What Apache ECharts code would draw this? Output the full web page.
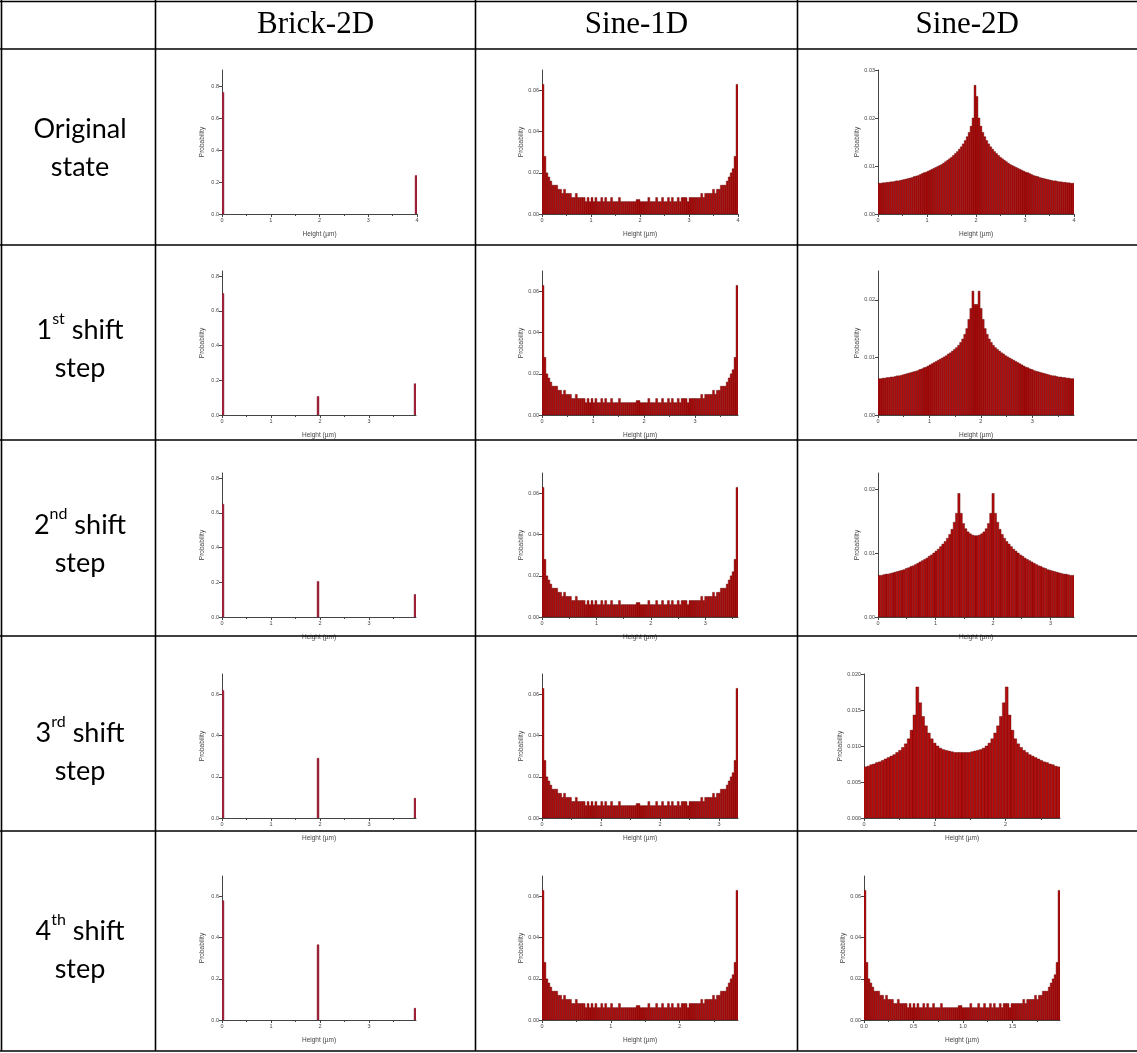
<!DOCTYPE html>
<html>
<head>
<meta charset="utf-8">
<script src="https://cdn.jsdelivr.net/npm/echarts@6/dist/echarts.min.js"></script>
<style>
  html, body { margin: 0; padding: 0; background: #fff; }
  #chart { width: 1137px; height: 1053px; }
</style>
</head>
<body>
<div id="chart"></div>
<script>
// column / row headings
const columnTitles = ['Brick-2D', 'Sine-1D', 'Sine-2D'];
const rowTitles = [
  '{n|Original}\n{n|state}',
  '{n|1}{s|st}{n| shift}\n{n|step}',
  '{n|2}{s|nd}{n| shift}\n{n|step}',
  '{n|3}{s|rd}{n| shift}\n{n|step}',
  '{n|4}{s|th}{n| shift}\n{n|step}'
];

// Brick-2D: only three bins are filled (first, middle, last)
const brickFirst = [0.76, 0.70, 0.65, 0.62, 0.58];
const brickMiddle = [0, 0.107, 0.205, 0.29, 0.366];
const brickLast = [0.24, 0.18, 0.13, 0.096, 0.057];
const brickBins = 100;

// U-shaped histogram (Sine-1D, all steps; Sine-2D last step)
const uProfile = [
  0.063, 0.028, 0.020, 0.018, 0.016, 0.014, 0.014, 0.014, 0.012, 0.012,
  0.010, 0.012, 0.010, 0.010, 0.010, 0.008, 0.008, 0.010, 0.008, 0.008,
  0.008, 0.008, 0.006, 0.008, 0.006, 0.008, 0.006, 0.008, 0.006, 0.006,
  0.008, 0.006, 0.008, 0.006, 0.006, 0.008, 0.006, 0.006, 0.006, 0.008,
  0.006, 0.006, 0.006, 0.006, 0.006, 0.006, 0.006, 0.006, 0.007, 0.007,
  0.006, 0.006, 0.006, 0.006, 0.008, 0.006, 0.006, 0.006, 0.008, 0.006,
  0.006, 0.008, 0.006, 0.006, 0.008, 0.006, 0.008, 0.006, 0.006, 0.008,
  0.006, 0.008, 0.008, 0.008, 0.006, 0.008, 0.008, 0.008, 0.008, 0.008,
  0.008, 0.010, 0.008, 0.010, 0.010, 0.010, 0.010, 0.012, 0.010, 0.012,
  0.012, 0.014, 0.014, 0.014, 0.016, 0.018, 0.020, 0.022, 0.028, 0.063
];

// Sine-2D histograms
const sine2dOriginal = [
  0.0064, 0.0064, 0.0065, 0.0065, 0.0066, 0.0066, 0.0067, 0.0067, 0.0068, 0.0069,
  0.0069, 0.0070, 0.0071, 0.0072, 0.0073, 0.0074, 0.0075, 0.0076, 0.0078, 0.0079,
  0.0080, 0.0082, 0.0084, 0.0086, 0.0087, 0.0089, 0.0091, 0.0093, 0.0095, 0.0097,
  0.0099, 0.0101, 0.0103, 0.0106, 0.0109, 0.0112, 0.0115, 0.0118, 0.0122, 0.0126,
  0.0130, 0.0135, 0.0140, 0.0146, 0.0153, 0.0161, 0.0170, 0.0183, 0.0200, 0.0268,
  0.0245, 0.0200, 0.0183, 0.0170, 0.0161, 0.0153, 0.0146, 0.0140, 0.0135, 0.0130,
  0.0126, 0.0122, 0.0118, 0.0115, 0.0112, 0.0109, 0.0106, 0.0103, 0.0101, 0.0099,
  0.0097, 0.0095, 0.0093, 0.0091, 0.0089, 0.0087, 0.0086, 0.0084, 0.0082, 0.0080,
  0.0079, 0.0078, 0.0076, 0.0075, 0.0074, 0.0073, 0.0072, 0.0071, 0.0070, 0.0069,
  0.0069, 0.0068, 0.0067, 0.0067, 0.0066, 0.0066, 0.0065, 0.0065, 0.0064, 0.0064
];
const sine2dStep1 = [
  0.0063, 0.0063, 0.0064, 0.0064, 0.0065, 0.0065, 0.0066, 0.0066, 0.0067, 0.0068,
  0.0068, 0.0069, 0.0070, 0.0071, 0.0072, 0.0073, 0.0074, 0.0075, 0.0076, 0.0077,
  0.0079, 0.0080, 0.0082, 0.0083, 0.0085, 0.0087, 0.0089, 0.0091, 0.0093, 0.0095,
  0.0097, 0.0099, 0.0101, 0.0103, 0.0106, 0.0108, 0.0111, 0.0114, 0.0117, 0.0121,
  0.0126, 0.0132, 0.0140, 0.0150, 0.0166, 0.0185, 0.0215, 0.0192,
  0.0192, 0.0215, 0.0185, 0.0166, 0.0150, 0.0140, 0.0132, 0.0126,
  0.0121, 0.0117, 0.0114, 0.0111, 0.0108, 0.0106, 0.0103, 0.0101, 0.0099, 0.0097,
  0.0095, 0.0093, 0.0091, 0.0089, 0.0087, 0.0085, 0.0083, 0.0082, 0.0080, 0.0079,
  0.0077, 0.0076, 0.0075, 0.0074, 0.0073, 0.0072, 0.0071, 0.0070, 0.0069, 0.0068,
  0.0068, 0.0067, 0.0066, 0.0066, 0.0065, 0.0065, 0.0064, 0.0064, 0.0063, 0.0063
];
const sine2dStep2 = [
  0.0065, 0.0065, 0.0066, 0.0067, 0.0067, 0.0068, 0.0069, 0.0070, 0.0071, 0.0072,
  0.0073, 0.0074, 0.0076, 0.0077, 0.0079, 0.0080, 0.0082, 0.0084, 0.0086, 0.0088,
  0.0090, 0.0092, 0.0095, 0.0097, 0.0100, 0.0103, 0.0106, 0.0110, 0.0114, 0.0118,
  0.0123, 0.0129, 0.0137, 0.0148, 0.0162, 0.0193, 0.0162, 0.0146, 0.0138, 0.0133,
  0.0130, 0.0128, 0.0127,
  0.0127, 0.0128, 0.0130,
  0.0133, 0.0138, 0.0146, 0.0162, 0.0193, 0.0162, 0.0148, 0.0137, 0.0129, 0.0123,
  0.0118, 0.0114, 0.0110, 0.0106, 0.0103, 0.0100, 0.0097, 0.0095, 0.0092, 0.0090,
  0.0088, 0.0086, 0.0084, 0.0082, 0.0080, 0.0079, 0.0077, 0.0076, 0.0074, 0.0073,
  0.0072, 0.0071, 0.0070, 0.0069, 0.0068, 0.0067, 0.0067, 0.0066, 0.0065, 0.0065
];
const sine2dStep3 = [
  0.0071, 0.0072, 0.0074, 0.0075, 0.0077, 0.0078, 0.0080, 0.0082, 0.0084, 0.0086,
  0.0088, 0.0091, 0.0094, 0.0098, 0.0103, 0.0110, 0.0122, 0.0143, 0.0182, 0.0160,
  0.0141, 0.0128, 0.0118, 0.0110, 0.0104, 0.0100, 0.0097, 0.0095, 0.0094, 0.0093,
  0.0092, 0.0091, 0.0091, 0.0091,
  0.0091, 0.0091, 0.0091, 0.0092, 0.0093, 0.0094, 0.0095, 0.0097, 0.0100, 0.0104,
  0.0110, 0.0118, 0.0128, 0.0141, 0.0160, 0.0182, 0.0143, 0.0122, 0.0110, 0.0103,
  0.0098, 0.0094, 0.0091, 0.0088, 0.0086, 0.0084, 0.0082, 0.0080, 0.0078, 0.0077,
  0.0075, 0.0074, 0.0072, 0.0071
];

// axis ranges per row (µm / probability)
const brickXMax = [4, 3.96, 3.96, 3.96, 3.96];
const sine1dXMax = [4, 3.84, 3.6, 3.32, 2.85];
const sine2dXMax = [4, 3.81, 3.41, 2.77, 1.98];
const brickYMax = [0.9, 0.83, 0.83, 0.7, 0.7];
const sine1dYMax = [0.07, 0.07, 0.07, 0.07, 0.07];
const sine2dYMax = [0.03, 0.025, 0.0225, 0.02, 0.07];
const sine2dYStep = [0.01, 0.01, 0.01, 0.005, 0.02];
const sine2dData = [sine2dOriginal, sine2dStep1, sine2dStep2, sine2dStep3, uProfile];

// table layout
const colX = [1.5, 155.5, 475.5, 797.5];
const rowY = [1.5, 49, 245, 440, 636, 831, 1051];
const rowTitleY = [148, 349, 544, 752, 950];
const plotTop = [70, 271, 473, 674, 876];
const PLOT_H = 144;

const grids = [], xAxes = [], yAxes = [], series = [];
const axisColor = '#444';
const tinyFont = 'Liberation Sans, Arial, sans-serif';

function tickList(start, end, step) {
  const out = [];
  for (let v = start; v <= end + 1e-9; v += step) out.push(+v.toFixed(4));
  return out;
}

function addPanel(p) {
  const gi = grids.length;
  grids.push({ left: p.left, top: p.top, width: p.width, height: PLOT_H, outerBoundsMode: 'none' });
  const major = tickList(0, p.xmax, p.xstep);
  const minor = tickList(p.xstep / 2, p.xmax, p.xstep);
  const yTicks = tickList(0, p.ymax, p.ystep);
  const xi = xAxes.length;
  xAxes.push({
    gridIndex: gi, type: 'value', position: 'bottom', min: 0, max: p.xmax,
    name: 'Height (µm)', nameLocation: 'middle', nameGap: 17,
    nameTextStyle: { fontSize: 6.5, color: axisColor, fontFamily: tinyFont },
    axisLine: { lineStyle: { color: axisColor, width: 1 } },
    axisTick: { customValues: major, length: 3, lineStyle: { color: axisColor } },
    axisLabel: { customValues: major, fontSize: 5.5, color: axisColor, margin: 3, fontFamily: tinyFont,
      formatter: v => v.toFixed(p.xdec) },
    splitLine: { show: false }
  });
  xAxes.push({
    gridIndex: gi, type: 'value', position: 'bottom', min: 0, max: p.xmax,
    axisLine: { show: false },
    axisTick: { customValues: minor, length: 2, lineStyle: { color: axisColor } },
    axisLabel: { show: false }, splitLine: { show: false }
  });
  yAxes.push({
    gridIndex: gi, type: 'value', position: 'left', min: 0, max: p.ymax,
    name: 'Probability', nameLocation: 'middle', nameGap: 16,
    nameTextStyle: { fontSize: 6.5, color: axisColor, fontFamily: tinyFont },
    axisLine: { show: true, lineStyle: { color: axisColor, width: 1 } },
    axisTick: { show: true, customValues: yTicks, length: 3, lineStyle: { color: axisColor } },
    axisLabel: { customValues: yTicks, fontSize: 5.5, color: axisColor, margin: 3, fontFamily: tinyFont,
      formatter: v => v.toFixed(p.ydec) },
    splitLine: { show: false }
  });
  const w = p.xmax / p.nbins;
  series.push({
    type: 'custom', xAxisIndex: xi, yAxisIndex: gi, data: p.bins, silent: true, clip: true,
    renderItem: (params, api) => {
      const i = api.value(0), v = api.value(1);
      const a = api.coord([i * w, v]);
      const b = api.coord([(i + 1) * w, 0]);
      return {
        type: 'rect',
        shape: { x: a[0], y: a[1], width: b[0] - a[0], height: b[1] - a[1] },
        style: { fill: p.fill, stroke: p.stroke, lineWidth: 0.4 }
      };
    }
  });
}

for (let r = 0; r < 5; r++) {
  // Brick-2D
  const bb = [[0, brickFirst[r]], [49, brickMiddle[r]], [brickBins - 1, brickLast[r]]].filter(d => d[1] > 0);
  addPanel({ left: 222, top: plotTop[r], width: r === 0 ? 195 : 194, xmax: brickXMax[r], xstep: 1, xdec: 0,
    ymax: brickYMax[r], ystep: 0.2, ydec: 1, bins: bb, nbins: brickBins, fill: '#a8203a', stroke: '#6a1020' });
  // Sine-1D
  addPanel({ left: 542, top: plotTop[r], width: 196, xmax: sine1dXMax[r], xstep: 1, xdec: 0,
    ymax: sine1dYMax[r], ystep: 0.02, ydec: 2, bins: uProfile.map((v, i) => [i, v]), nbins: uProfile.length,
    fill: '#b40d0d', stroke: '#5a0000' });
  // Sine-2D
  const d = sine2dData[r];
  addPanel({ left: r >= 3 ? 864 : 878, top: plotTop[r], width: 196, xmax: sine2dXMax[r],
    xstep: r === 4 ? 0.5 : 1, xdec: r === 4 ? 1 : 0,
    ymax: sine2dYMax[r], ystep: sine2dYStep[r], ydec: sine2dYStep[r] === 0.005 ? 3 : 2,
    bins: d.map((v, i) => [i, v]), nbins: d.length, fill: '#b40d0d', stroke: '#5a0000' });
}

// table lines and texts
const graphic = [];
rowY.forEach(y => graphic.push({ type: 'line', shape: { x1: 0, y1: y, x2: 1137, y2: y },
  style: { stroke: '#000', lineWidth: 1.6 }, z: 10 }));
colX.forEach(x => graphic.push({ type: 'line', shape: { x1: x, y1: 0, x2: x, y2: rowY[rowY.length - 1] },
  style: { stroke: '#000', lineWidth: 1.6 }, z: 10 }));
columnTitles.forEach((t, i) => graphic.push({
  type: 'text', x: (colX[i + 1] + (colX[i + 2] || 1137)) / 2, y: 25,
  style: { text: t, fontSize: 31, fontFamily: 'Liberation Serif, Times New Roman, serif', fill: '#000',
    align: 'center', verticalAlign: 'middle' }
}));
rowTitles.forEach((t, i) => graphic.push({
  type: 'text', x: 80, y: rowTitleY[i],
  style: {
    text: t, align: 'center', verticalAlign: 'middle',
    rich: {
      n: { fontSize: 27, fontFamily: 'Lato, sans-serif', fill: '#000', lineHeight: 38 },
      s: { fontSize: 16, fontFamily: 'Lato, sans-serif', fill: '#000', lineHeight: 27, verticalAlign: 'top' }
    }
  }
}));

const chart = echarts.init(document.getElementById('chart'));
chart.setOption({
  backgroundColor: '#fff',
  animation: false,
  grid: grids,
  xAxis: xAxes,
  yAxis: yAxes,
  series: series,
  graphic: graphic
});
</script>
</body>
</html>
